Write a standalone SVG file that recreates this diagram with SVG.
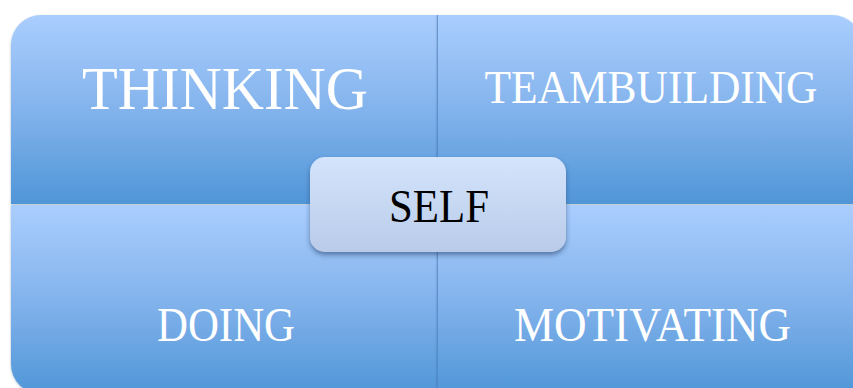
<svg xmlns="http://www.w3.org/2000/svg" width="853" height="388" viewBox="0 0 853 388">
  <defs>
    <linearGradient id="quadFill" x1="0" y1="0" x2="0" y2="1">
      <stop offset="0" stop-color="#AACEFE"/>
      <stop offset="0.5" stop-color="#83B3EC"/>
      <stop offset="1" stop-color="#5096D8"/>
    </linearGradient>
    <linearGradient id="selfFill" x1="0" y1="0" x2="0" y2="1">
      <stop offset="0" stop-color="#D4E4FC"/>
      <stop offset="1" stop-color="#B9CBE9"/>
    </linearGradient>
    <filter id="edgeShadow" x="-5%" y="-5%" width="110%" height="115%">
      <feDropShadow dx="0" dy="1" stdDeviation="1.2" flood-color="#1F3B63" flood-opacity="0.35"/>
    </filter>
    <filter id="selfShadow" x="-10%" y="-20%" width="120%" height="150%">
      <feDropShadow dx="0" dy="3" stdDeviation="2.5" flood-color="#1F3B63" flood-opacity="0.55"/>
    </filter>
  </defs>
  <style>
    .quad { fill: url(#quadFill); filter: url(#edgeShadow); }
    .qlabel { font-family: "Liberation Serif", "Times New Roman", serif; fill: #FFFFFF; text-anchor: middle; }
    .slabel { font-family: "Liberation Serif", "Times New Roman", serif; fill: #000000; text-anchor: middle; }
  </style>

  <rect width="853" height="388" fill="#FFFFFF"/>

  <g id="thinking">
    <path class="quad" d="M11,45 A30,30 0 0 1 41,15 L437,15 L437,204 L11,204 Z"/>
    <text class="qlabel" x="225" y="109" font-size="62" textLength="286" lengthAdjust="spacingAndGlyphs">THINKING</text>
  </g>

  <g id="teambuilding">
    <path class="quad" d="M437,15 L832,15 A30,30 0 0 1 862,45 L862,204 L437,204 Z"/>
    <text class="qlabel" x="651" y="103" font-size="46" textLength="333" lengthAdjust="spacingAndGlyphs">TEAMBUILDING</text>
  </g>

  <g id="doing">
    <path class="quad" d="M11,205 L437,205 L437,394 L41,394 A30,30 0 0 1 11,364 Z"/>
    <text class="qlabel" x="226" y="341" font-size="49" textLength="138" lengthAdjust="spacingAndGlyphs">DOING</text>
  </g>

  <g id="motivating">
    <path class="quad" d="M437,205 L862,205 L862,394 L437,394 Z"/>
    <text class="qlabel" x="652.5" y="341" font-size="49" textLength="277" lengthAdjust="spacingAndGlyphs">MOTIVATING</text>
  </g>

  <g id="connectors">
    <!-- seam line between the left and right quadrants -->
    <line x1="437.5" y1="15" x2="437.5" y2="388" stroke="#4F82C0" stroke-width="1" opacity="0.7"/>
  </g>

  <g id="self">
    <rect x="310" y="157" width="256" height="95" rx="15" ry="15" fill="url(#selfFill)" filter="url(#selfShadow)"/>
    <text class="slabel" x="439" y="222" font-size="47" textLength="100" lengthAdjust="spacingAndGlyphs">SELF</text>
  </g>
</svg>
